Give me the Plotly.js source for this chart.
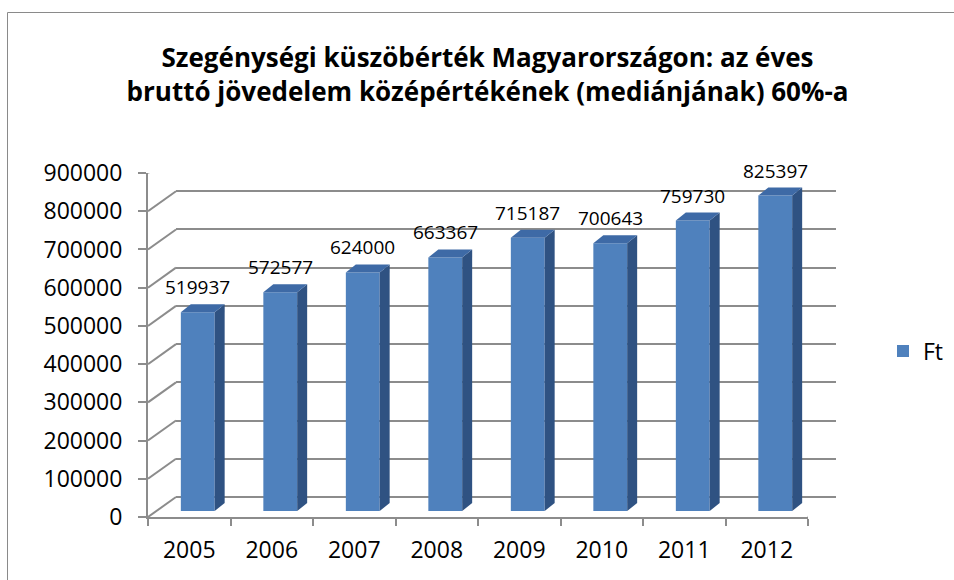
<!DOCTYPE html>
<html>
<head>
<meta charset="utf-8">
<script src="https://cdn.plot.ly/plotly-3.0.1.min.js"></script>
<style>
  html, body { margin: 0; padding: 0; background: #ffffff; }
  #chart { width: 954px; height: 580px; }
</style>
</head>
<body>
<div id="chart"></div>
<script>
// ---- data ----
var years = ['2005', '2006', '2007', '2008', '2009', '2010', '2011', '2012'];
var values = [519937, 572577, 624000, 663367, 715187, 700643, 759730, 825397];
var seriesName = 'Ft';
var yTicks = [0, 100000, 200000, 300000, 400000, 500000, 600000, 700000, 800000, 900000];
var titleLines = ['Szegénységi küszöbérték Magyarországon: az éves',
                  'bruttó jövedelem középértékének (mediánjának) 60%-a'];

// ---- layout geometry (pixels in a 954x580 figure) ----
var W = 954, H = 580;
function fx(px) { return px / W; }
function fy(py) { return 1 - py / H; }
var front = { x0: 148, x1: 808, yb: 517, yt: 173 };
var wallDx = 28, wallDy = 20;       // depth of the 3D box
var barDx = 8.5, barDy = 6;         // bars sit a bit behind the front plane
var faceDx = 10, faceDy = 8;        // bar depth
var barWidth = 0.41;
var yMax = 900000;

var gray = '#8c8c8c';
var front_col = '#4f81bd', side_col = '#2f5282', top_col = '#3e6aa6';
var fontFam = '"Open Sans", "Noto Sans", sans-serif';

var idx = years.map(function (y, i) { return i; });
var catPx = (front.x1 - front.x0) / years.length;
var unitPx = (front.yb - front.yt) / yMax;
var dxu = faceDx / catPx;           // depth in data units (x)
var dyu = faceDy / unitPx;          // depth in data units (y)
var hw = barWidth / 2;

var traces = [
  { // front plane (carries the visible axes)
    type: 'scatter', mode: 'markers', x: years, y: values,
    xaxis: 'x', yaxis: 'y', marker: { opacity: 0 }, hoverinfo: 'skip', showlegend: false
  },
  { // back wall (carries the gridlines)
    type: 'scatter', mode: 'markers', x: idx, y: values,
    xaxis: 'x2', yaxis: 'y2', marker: { opacity: 0 }, hoverinfo: 'skip', showlegend: false
  },
  { // bars (front faces)
    type: 'bar', x: idx, y: values, name: seriesName, width: barWidth,
    xaxis: 'x3', yaxis: 'y3',
    marker: { color: front_col, line: { width: 0 } },
    hovertemplate: '%{y}<extra></extra>'
  }
];

var shapes = [];
// outer frame
shapes.push({ type: 'rect', xref: 'paper', yref: 'paper', x0: fx(7.5), x1: 1.2, y0: -0.2, y1: fy(12.5),
  line: { color: '#8a8a8a', width: 1 }, fillcolor: 'rgba(0,0,0,0)', layer: 'below' });
// left wall diagonals
yTicks.forEach(function (v) {
  shapes.push({ type: 'line', xref: 'x', yref: 'y', xsizemode: 'pixel', ysizemode: 'pixel',
    xanchor: -0.5, yanchor: v, x0: 0, x1: wallDx, y0: 0, y1: wallDy,
    line: { color: gray, width: 2 }, layer: 'above' });
});
// floor right diagonal
shapes.push({ type: 'line', xref: 'x', yref: 'y', xsizemode: 'pixel', ysizemode: 'pixel',
  xanchor: years.length - 0.5, yanchor: 0, x0: 0, x1: wallDx, y0: 0, y1: wallDy,
  line: { color: gray, width: 2 }, layer: 'above' });
// bar side & top faces
values.forEach(function (v, i) {
  var r = i + hw, l = i - hw;
  shapes.push({ type: 'path', xref: 'x3', yref: 'y3',
    path: 'M' + r + ',0 L' + (r + dxu) + ',' + dyu + ' L' + (r + dxu) + ',' + (v + dyu) + ' L' + r + ',' + v + ' Z',
    fillcolor: side_col, line: { width: 0 }, layer: 'above' });
  shapes.push({ type: 'path', xref: 'x3', yref: 'y3',
    path: 'M' + l + ',' + v + ' L' + r + ',' + v + ' L' + (r + dxu) + ',' + (v + dyu) + ' L' + (l + dxu) + ',' + (v + dyu) + ' Z',
    fillcolor: top_col, line: { width: 0 }, layer: 'above' });
});

var annotations = values.map(function (v, i) {
  return { x: i, y: v, xref: 'x3', yref: 'y3', text: String(v), showarrow: false,
    yshift: 25, font: { family: fontFam, size: 19, color: '#000000' } };
});

var layout = {
  width: W, height: H,
  margin: { l: 0, r: 0, t: 0, b: 0, pad: 0 },
  paper_bgcolor: '#ffffff', plot_bgcolor: 'rgba(0,0,0,0)',
  font: { family: fontFam, color: '#000000' },
  title: {
    text: titleLines.join('<br>'),
    font: { family: fontFam, size: 26, weight: 'bold', color: '#000000' },
    x: fx(487.5), xanchor: 'center', xref: 'paper',
    y: fy(67), yanchor: 'middle', yref: 'container'
  },
  showlegend: true,
  legend: { x: fx(883), xanchor: 'left', y: fy(351), yanchor: 'middle',
    font: { family: fontFam, size: 23, color: '#000000' }, bgcolor: 'rgba(0,0,0,0)' },
  xaxis: {
    domain: [fx(front.x0), fx(front.x1)], anchor: 'y', type: 'category',
    categoryorder: 'array', categoryarray: years,
    range: [-0.5, years.length - 0.5], tickson: 'boundaries',
    ticks: 'outside', ticklen: 7, tickwidth: 2, tickcolor: gray, ticklabelstandoff: 11,
    showline: true, linecolor: gray, linewidth: 2, showgrid: false, zeroline: false,
    tickfont: { family: fontFam, size: 23, color: '#000000' }, fixedrange: true
  },
  yaxis: {
    domain: [fy(front.yb), fy(front.yt)], anchor: 'x',
    range: [0, yMax], tickmode: 'array', tickvals: yTicks, ticktext: yTicks.map(String),
    ticks: 'outside', ticklen: 8, tickwidth: 2, tickcolor: gray, ticklabelstandoff: 11,
    showline: true, linecolor: gray, linewidth: 2, showgrid: false, zeroline: false,
    tickfont: { family: fontFam, size: 23, color: '#000000' }, fixedrange: true
  },
  xaxis2: {
    domain: [fx(front.x0 + wallDx), fx(front.x1 + wallDx)], anchor: 'y2',
    range: [-0.5, years.length - 0.5], visible: false, fixedrange: true
  },
  yaxis2: {
    domain: [fy(front.yb - wallDy), fy(front.yt - wallDy)], anchor: 'x2',
    range: [0, yMax], tickmode: 'array', tickvals: yTicks, showticklabels: false,
    showgrid: true, gridcolor: gray, gridwidth: 2,
    zeroline: true, zerolinecolor: gray, zerolinewidth: 2, showline: false, ticks: '', fixedrange: true
  },
  xaxis3: {
    domain: [fx(front.x0 + barDx), fx(front.x1 + barDx)], anchor: 'y3',
    range: [-0.5, years.length - 0.5], visible: false, fixedrange: true
  },
  yaxis3: {
    domain: [fy(front.yb - barDy), fy(front.yt - barDy)], anchor: 'x3',
    range: [0, yMax], visible: false, fixedrange: true
  },
  shapes: shapes,
  annotations: annotations
};

Plotly.newPlot('chart', traces, layout, { displayModeBar: false, staticPlot: true });
</script>
</body>
</html>
